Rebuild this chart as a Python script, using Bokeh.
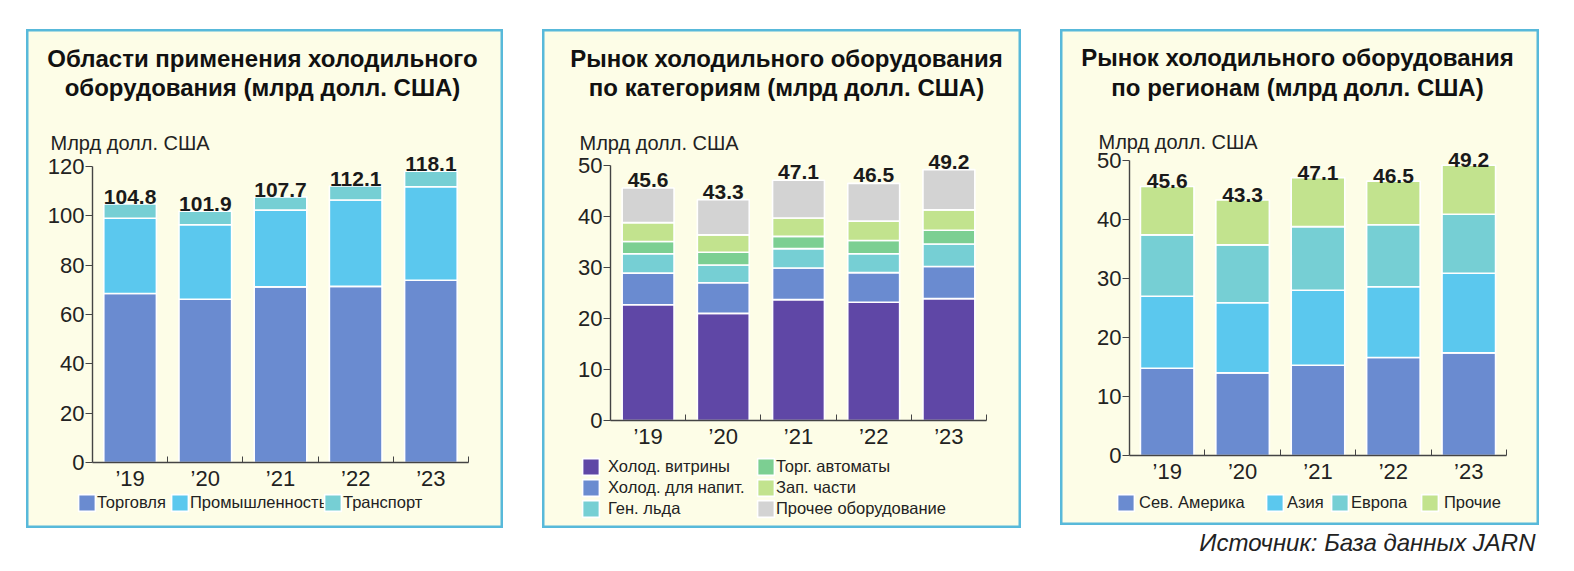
from bokeh.plotting import figure
from bokeh.models import (Range1d, FixedTicker, Label, Legend, LegendItem,
                          ColumnDataSource, Spacer)
from bokeh.layouts import row, column
from bokeh.core.properties import value
from bokeh.embed import file_html
from bokeh.resources import INLINE

# ---------------- data ----------------
years = ["\u201919", "\u201920", "\u201921", "\u201922", "\u201923"]

# Panel 1: application areas
app_names = ["Торговля", "Промышленность", "Транспорт"]
app_trade = [68.5, 66.2, 71.2, 71.4, 73.9]
app_industry = [30.5, 30.2, 31.1, 35.0, 37.9]
app_transport = [5.8, 5.5, 5.4, 5.7, 6.3]
app_totals = [104.8, 101.9, 107.7, 112.1, 118.1]

# Panel 2: categories
cat_names = ["Холод. витрины", "Холод. для напит.", "Ген. льда",
             "Торг. автоматы", "Зап. части", "Прочее оборудование"]
cat_showcase = [22.7, 21.0, 23.7, 23.2, 23.9]
cat_beverage = [6.2, 6.0, 6.2, 5.8, 6.3]
cat_ice = [3.8, 3.5, 3.8, 3.7, 4.4]
cat_vending = [2.4, 2.5, 2.4, 2.6, 2.7]
cat_parts = [3.7, 3.4, 3.6, 3.8, 4.0]
cat_other = [6.8, 6.9, 7.4, 7.4, 7.9]
cat_totals = [45.6, 43.3, 47.1, 46.5, 49.2]

# Panel 3: regions
reg_names = ["Сев. Америка", "Азия", "Европа", "Прочие"]
reg_na = [14.8, 14.0, 15.3, 16.6, 17.4]
reg_asia = [12.2, 11.9, 12.7, 12.0, 13.5]
reg_europe = [10.4, 9.8, 10.8, 10.5, 10.0]
reg_other = [8.2, 7.6, 8.3, 7.4, 8.3]
reg_totals = [45.6, 43.3, 47.1, 46.5, 49.2]

titles = [
    ["Области применения холодильного", "оборудования (млрд долл. США)"],
    ["Рынок холодильного оборудования", "по категориям (млрд долл. США)"],
    ["Рынок холодильного оборудования", "по регионам (млрд долл. США)"],
]
unit_label = "Млрд долл. США"
source_text = "Источник: База данных JARN"

# ---------------- style ----------------
FONT = "Liberation Sans"
BG = "#fdfde7"
BORDER = "#58b9da"
C_BLUE = "#6a8bd0"
C_SKY = "#5bc8ee"
C_TEAL = "#76cfd4"
C_PURPLE = "#5f47a6"
C_GREEN = "#7ccf92"
C_LGREEN = "#c2e38e"
C_GRAY = "#d3d3d3"
AXIS = "#444444"
TXT = "#222222"
GLYPH = 21


def make_panel(box, ax0, ax1, y0, ytop, ymax, ystep, stacks, names, colors,
               totals, title_lines, title_cx, title_ys, unit_xy, legends,
               bar_w, total_gap):
    """box and the other pixel values are positions on the page."""
    bx, by, bw, bh = box
    n = len(years)
    ux = (ax1 - ax0) / n          # px per category
    uy = (y0 - ytop) / ymax       # px per value unit
    xr = Range1d((bx - ax0) / ux, (bx + bw - ax0) / ux)
    yr = Range1d(-(by + bh - y0) / uy, (y0 - by) / uy)

    p = figure(width=bw, height=bh, output_backend="svg",
               toolbar_location=None, x_range=xr, y_range=yr,
               min_border=0, min_border_left=0, min_border_right=0,
               min_border_top=0, min_border_bottom=0,
               background_fill_color=BG, border_fill_color=BG)
    p.frame_align = False
    p.title.visible = False
    p.grid.visible = False
    p.outline_line_color = BORDER
    p.outline_line_width = 4

    xs = [i + 0.5 for i in range(n)]
    data = {"x": xs}
    keys = []
    for i, s in enumerate(stacks):
        k = "s%d" % i
        data[k] = s
        keys.append(k)
    src = ColumnDataSource(data)
    rs = p.vbar_stack(keys, x="x", width=bar_w, color=colors, source=src,
                      line_color="white", line_width=1.6)

    # totals above bars
    tsrc = ColumnDataSource({"x": xs,
                             "y": [t + total_gap / uy for t in totals],
                             "t": ["%.1f" % t for t in totals]})
    p.text(x="x", y="y", text="t", source=tsrc, text_align="center",
           text_baseline="alphabetic",
           text_font=value(FONT), text_font_style="bold",
           text_font_size="21px", text_color="#1a1a1a")

    # axes drawn at data 0 inside the frame
    xa = p.xaxis[0]
    xa.fixed_location = 0
    xa.bounds = (0, n)
    xa.ticker = FixedTicker(ticks=xs, minor_ticks=list(range(1, n + 1)))
    xa.major_label_overrides = {x: y for x, y in zip(xs, years)}
    xa.major_tick_in = 0
    xa.major_tick_out = 0
    xa.minor_tick_in = 6
    xa.minor_tick_out = 0
    xa.minor_tick_line_color = AXIS
    xa.axis_line_color = AXIS
    xa.axis_line_width = 1.4
    xa.major_label_standoff = 3
    xa.major_label_text_font = FONT
    xa.major_label_text_font_size = "22px"
    xa.major_label_text_color = TXT

    ya = p.yaxis[0]
    ya.fixed_location = 0
    ya.bounds = (0, ymax)
    ya.ticker = FixedTicker(ticks=list(range(0, ymax + 1, ystep)))
    ya.major_tick_in = 0
    ya.major_tick_out = 7
    ya.minor_tick_in = 0
    ya.minor_tick_out = 0
    ya.major_tick_line_color = AXIS
    ya.axis_line_color = AXIS
    ya.axis_line_width = 1.4
    ya.major_label_standoff = 1
    ya.major_label_text_font = FONT
    ya.major_label_text_font_size = "22px"
    ya.major_label_text_color = TXT

    def sx(px):
        return px - bx

    def sy(py):
        return (by + bh) - py

    for line, ty in zip(title_lines, title_ys):
        p.add_layout(Label(x=sx(title_cx), y=sy(ty), x_units="screen",
                           y_units="screen", text=line, text_align="center",
                           text_baseline="middle", text_font=FONT,
                           text_font_style="bold", text_font_size="24px",
                           text_color="#111111"))
    p.add_layout(Label(x=sx(unit_xy[0]), y=sy(unit_xy[1]), x_units="screen",
                       y_units="screen", text=unit_label, text_align="left",
                       text_baseline="middle", text_font=FONT,
                       text_font_size="20px", text_color=TXT))

    # legend: the drawn square is inset by 10% of the glyph box
    for idxs, (lx, lcy), standoff in legends:
        items = [LegendItem(label=names[i], renderers=[rs[i]]) for i in idxs]
        lg = Legend(items=items,
                    location=(sx(lx - 3), sy(lcy + GLYPH / 2 * len(idxs))),
                    orientation="vertical", padding=0, margin=0, spacing=0,
                    glyph_width=GLYPH, glyph_height=GLYPH, label_height=GLYPH,
                    label_standoff=max(standoff - 3, 0),
                    border_line_alpha=0, background_fill_alpha=0,
                    label_text_font=FONT, label_text_font_size="16.5px",
                    label_text_color=TXT)
        p.add_layout(lg, "center")
    return p


# Panel 1
p1 = make_panel(box=(26, 29, 477, 499), ax0=92, ax1=468, y0=462, ytop=166,
                ymax=120, ystep=20,
                stacks=[app_trade, app_industry, app_transport],
                names=app_names, colors=[C_BLUE, C_SKY, C_TEAL],
                totals=app_totals, title_lines=titles[0], title_cx=262,
                title_ys=[58, 87], unit_xy=(50, 142),
                legends=[([0], (79, 502), 2), ([1], (172, 502), 2),
                         ([2], (325, 502), 2)],
                bar_w=0.7, total_gap=7)

# Panel 2
p2 = make_panel(box=(542, 29, 479, 499), ax0=610, ax1=986, y0=420, ytop=165,
                ymax=50, ystep=10,
                stacks=[cat_showcase, cat_beverage, cat_ice, cat_vending,
                        cat_parts, cat_other],
                names=cat_names,
                colors=[C_PURPLE, C_BLUE, C_TEAL, C_GREEN, C_LGREEN, C_GRAY],
                totals=cat_totals, title_lines=titles[1], title_cx=786,
                title_ys=[58, 87], unit_xy=(579, 142),
                legends=[([0, 1, 2], (583, 487), 10),
                         ([3, 4, 5], (758, 487), 2)],
                bar_w=0.69, total_gap=8)

# Panel 3
p3 = make_panel(box=(1060, 29, 479, 496), ax0=1129, ax1=1506, y0=455,
                ytop=160, ymax=50, ystep=10,
                stacks=[reg_na, reg_asia, reg_europe, reg_other],
                names=reg_names, colors=[C_BLUE, C_SKY, C_TEAL, C_LGREEN],
                totals=reg_totals, title_lines=titles[2], title_cx=1297,
                title_ys=[57, 87], unit_xy=(1098, 141),
                legends=[([0], (1118, 502), 6), ([1], (1267, 502), 5),
                         ([2], (1332, 502), 4), ([3], (1422, 502), 7)],
                bar_w=0.71, total_gap=5)

# Source line
ps = figure(width=1539, height=30, output_backend="svg",
            toolbar_location=None, x_axis_type=None, y_axis_type=None,
            min_border=0, x_range=Range1d(0, 1), y_range=Range1d(0, 1))
ps.outline_line_color = None
ps.grid.visible = False
ps.title.visible = False
ps.add_layout(Label(x=1535, y=16, x_units="screen", y_units="screen",
                    text=source_text, text_align="right",
                    text_baseline="middle", text_font=FONT,
                    text_font_style="italic", text_font_size="24px",
                    text_color=TXT))

layout = column(
    Spacer(height=29),
    row(Spacer(width=26), p1, Spacer(width=39), p2, Spacer(width=39), p3),
    ps,
)

open("out.html", "w").write(file_html(layout, INLINE))
